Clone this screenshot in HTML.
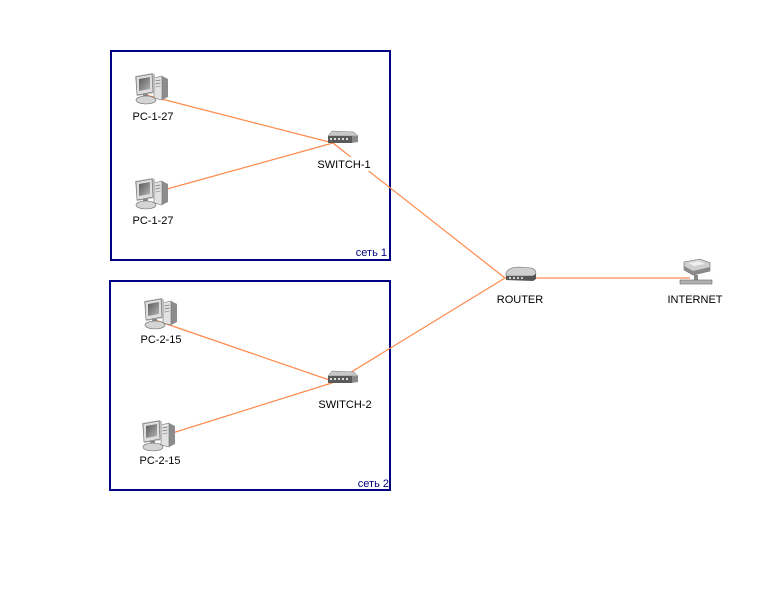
<!DOCTYPE html>
<html>
<head>
<meta charset="utf-8">
<style>
  html,body{margin:0;padding:0;background:#fff;}
  svg{display:block;}
  text{font-family:"Liberation Sans","DejaVu Sans",sans-serif;font-size:11px;fill:#000;}
  .net{fill:#000080;}
</style>
</head>
<body>
<svg width="775" height="600" viewBox="0 0 775 600" xmlns="http://www.w3.org/2000/svg">
  <defs>
    <linearGradient id="scr" x1="0" y1="0" x2="1" y2="1">
      <stop offset="0" stop-color="#5a5a5a"/>
      <stop offset="1" stop-color="#b4b4b4"/>
    </linearGradient>
    <g id="pc">
      <polygon points="27,4 33,7 33,25 27,28" fill="#8c8c8c"/>
      <polygon points="19,6 27,4 27,28 19,26" fill="#e2e2e2" stroke="#707070" stroke-width="0.6"/>
      <line x1="20.5" y1="9" x2="25.5" y2="8" stroke="#777" stroke-width="0.8"/>
      <line x1="20.5" y1="12" x2="25.5" y2="11" stroke="#777" stroke-width="0.8"/>
      <line x1="20.5" y1="15" x2="25.5" y2="14" stroke="#999" stroke-width="0.8"/>
      <polygon points="0,4 18,1 20,3 20,21 2,24" fill="#bdbdbd"/>
      <polygon points="1,5 17,2 18,20 2,23" fill="#dedede" stroke="#6a6a6a" stroke-width="0.6"/>
      <polygon points="4,7 15,5 15,17 4,19" fill="url(#scr)"/>
      <rect x="8" y="22" width="5" height="4" fill="#8a8a8a"/>
      <ellipse cx="11" cy="28" rx="10" ry="4" fill="#d4d4d4" stroke="#6a6a6a" stroke-width="0.6"/>
    </g>
    <g id="sw">
      <polygon points="4,0 26,1 30,5 0,5" fill="#c8c8c8" stroke="#777" stroke-width="0.5"/>
      <rect x="0" y="5" width="24" height="7" fill="#5a5a5a"/>
      <polygon points="24,5 30,5 30,11 24,12" fill="#8a8a8a"/>
      <rect x="2" y="7" width="2" height="2" fill="#ddd"/>
      <rect x="6" y="7" width="2" height="2" fill="#ddd"/>
      <rect x="10" y="7" width="2" height="2" fill="#ddd"/>
      <rect x="14" y="7" width="2" height="2" fill="#ddd"/>
      <rect x="18" y="7" width="2" height="2" fill="#ddd"/>
    </g>
    <g id="rt">
      <path d="M3,7 Q6,1 16,1 L28,2 Q33,3 33,8 L30,10 L3,10Z" fill="#cfcfcf" stroke="#666" stroke-width="0.6"/>
      <path d="M3,10 L30,10 L33,8 L33,13 L30,15 L3,14Z" fill="#555"/>
      <rect x="6" y="11" width="2" height="2" fill="#ccc"/>
      <rect x="10" y="11" width="2" height="2" fill="#ccc"/>
      <rect x="14" y="11" width="2" height="2" fill="#ccc"/>
      <rect x="18" y="11" width="2" height="2" fill="#ccc"/>
    </g>
    <g id="inet">
      <polygon points="4,3 20,0 30,4 30,12 13,16 4,11" fill="#cfcfcf" stroke="#666" stroke-width="0.6"/>
      <polygon points="4,11 13,16 30,12 30,8 13,12 4,7" fill="#8a8a8a"/>
      <polygon points="8,4 19,2 25,5 14,7" fill="#eee"/>
      <rect x="14" y="16" width="4" height="6" fill="#888"/>
      <rect x="0" y="21" width="32" height="4" fill="#b0b0b0" stroke="#666" stroke-width="0.6"/>
    </g>
  </defs>

  <!-- group boxes -->
  <rect x="111" y="51" width="279" height="209" fill="none" stroke="#000080" stroke-width="2"/>
  <rect x="110" y="281" width="280" height="209" fill="none" stroke="#000080" stroke-width="2"/>

  <!-- connectors -->
  <g stroke="#ff8a4c" stroke-width="1.2" fill="none">
    <line x1="146" y1="95" x2="333" y2="143"/>
    <line x1="160" y1="191" x2="333" y2="143"/>
    <line x1="333" y1="143" x2="505" y2="278"/>
    <line x1="505" y1="278" x2="335" y2="382"/>
    <line x1="505" y1="278" x2="690" y2="278"/>
    <line x1="155" y1="320" x2="335" y2="382"/>
    <line x1="166" y1="435" x2="335" y2="382"/>
  </g>

  <!-- icons -->
  <use href="#pc" x="135" y="72"/>
  <use href="#pc" x="135" y="177"/>
  <use href="#pc" x="144" y="297"/>
  <use href="#pc" x="142" y="419"/>
  <use href="#sw" x="328" y="131"/>
  <use href="#sw" x="328" y="371"/>
  <use href="#rt" x="503" y="266"/>
  <use href="#inet" x="680" y="259"/>

  <!-- labels -->
  <rect x="317" y="157" width="55" height="14" fill="#fff"/>
  <text x="153" y="120" text-anchor="middle">PC-1-27</text>
  <text x="153" y="224" text-anchor="middle">PC-1-27</text>
  <text x="344" y="168" text-anchor="middle">SWITCH-1</text>
  <text x="387" y="256" text-anchor="end" class="net">сеть 1</text>
  <text x="520" y="303" text-anchor="middle">ROUTER</text>
  <text x="695" y="303" text-anchor="middle">INTERNET</text>
  <text x="161" y="343" text-anchor="middle">PC-2-15</text>
  <text x="160" y="464" text-anchor="middle">PC-2-15</text>
  <text x="345" y="408" text-anchor="middle">SWITCH-2</text>
  <text x="389" y="487" text-anchor="end" class="net">сеть 2</text>
</svg>
</body>
</html>
